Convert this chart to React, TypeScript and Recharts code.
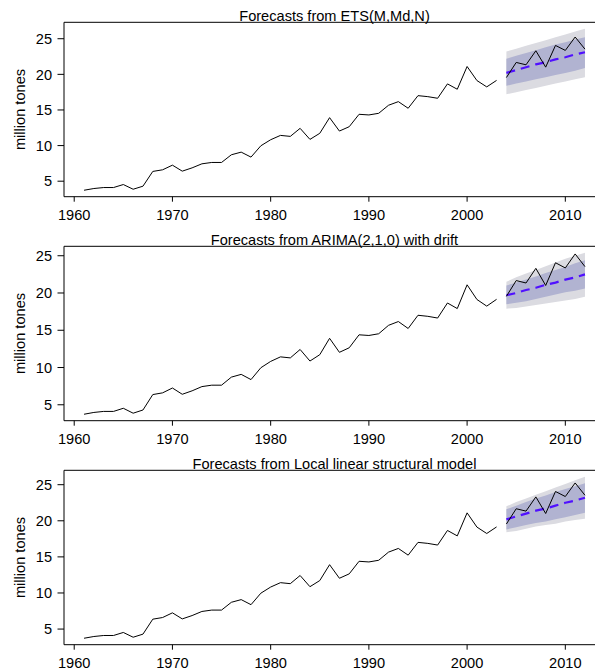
import React from 'react';
import { ComposedChart, Line, Area, XAxis, YAxis, ReferenceArea } from 'recharts';

const OBS_START = 1961;
const observed = [
  3.73, 3.97, 4.11, 4.11, 4.53, 3.87, 4.3, 6.37, 6.6, 7.25,
  6.41, 6.87, 7.44, 7.63, 7.63, 8.71, 9.08, 8.38, 9.97, 10.82,
  11.43, 11.29, 12.42, 10.87, 11.72, 13.92, 12.04, 12.65, 14.39, 14.3,
  14.53, 15.66, 16.17, 15.24, 17.01, 16.87, 16.64, 18.66, 17.91, 21.1,
  19.13, 18.24, 19.15,
];
const FC_START = 2004;
const testData = [19.55, 21.67, 21.34, 23.31, 21.01, 24.06, 23.36, 25.24, 23.54];

// ETS(M,Md,N)
const etsMean = [20.2, 20.6, 21.0, 21.4, 21.7, 22.1, 22.4, 22.8, 23.1];
const etsHi80 = [22.2, 22.6, 23.0, 23.4, 23.8, 24.2, 24.5, 24.9, 25.2];
const etsLo80 = [18.4, 18.7, 19.0, 19.3, 19.6, 19.9, 20.2, 20.5, 20.9];
const etsHi95 = [23.2, 23.6, 24.0, 24.4, 24.8, 25.2, 25.6, 26.0, 26.4];
const etsLo95 = [17.2, 17.5, 17.8, 18.1, 18.4, 18.7, 19.0, 19.3, 19.6];

// ARIMA(2,1,0) with drift
const arMean = [19.7, 20.0, 20.4, 20.7, 21.1, 21.4, 21.8, 22.1, 22.5];
const arHi80 = [21.0, 21.4, 21.8, 22.2, 22.7, 23.1, 23.5, 24.0, 24.4];
const arLo80 = [18.5, 18.7, 18.9, 19.2, 19.5, 19.8, 20.1, 20.3, 20.6];
const arHi95 = [21.5, 22.1, 22.6, 23.1, 23.6, 24.1, 24.6, 25.0, 25.4];
const arLo95 = [17.9, 18.0, 18.2, 18.4, 18.6, 18.8, 19.0, 19.2, 19.5];

// Local linear structural model
const stMean = [20.2, 20.6, 21.0, 21.4, 21.7, 22.1, 22.5, 22.8, 23.2];
const stHi80 = [21.6, 22.1, 22.6, 23.1, 23.5, 24.0, 24.4, 24.8, 25.2];
const stLo80 = [18.8, 19.1, 19.4, 19.7, 19.9, 20.2, 20.5, 20.8, 21.1];
const stHi95 = [22.0, 22.6, 23.1, 23.6, 24.1, 24.6, 25.1, 25.6, 26.1];
const stLo95 = [18.4, 18.6, 18.9, 19.2, 19.4, 19.6, 19.9, 20.1, 20.3];

const titles = [
  'Forecasts from ETS(M,Md,N)',
  'Forecasts from ARIMA(2,1,0) with drift',
  'Forecasts from Local linear structural model',
];
const yLabel = 'million tones';
const xTicks = [1960, 1970, 1980, 1990, 2000, 2010];
const yTicks = [5, 10, 15, 20, 25];

const FONT = '"Liberation Sans", Arial, Helvetica, sans-serif';
const FS = 14.6;

type Fc = { title: string; mean: number[]; hi80: number[]; lo80: number[]; hi95: number[]; lo95: number[] };

const panels: Fc[] = [
  { title: titles[0], mean: etsMean, hi80: etsHi80, lo80: etsLo80, hi95: etsHi95, lo95: etsLo95 },
  { title: titles[1], mean: arMean, hi80: arHi80, lo80: arLo80, hi95: arHi95, lo95: arLo95 },
  { title: titles[2], mean: stMean, hi80: stHi80, lo80: stLo80, hi95: stHi95, lo95: stLo95 },
];

const END_YEAR = FC_START + testData.length - 1;

function buildRows(p: Fc) {
  const rows: any[] = [];
  for (let y = OBS_START; y <= END_YEAR; y++) {
    const i = y - OBS_START;
    const j = y - FC_START;
    const r: any = { year: y };
    if (i < observed.length) r.obs = observed[i];
    if (j >= 0) {
      r.test = testData[j];
      r.mean = p.mean[j];
      r.b80 = [p.lo80[j], p.hi80[j]];
      r.b95 = [p.lo95[j], p.hi95[j]];
    }
    rows.push(r);
  }
  return rows;
}

const CH_W = 610;
const CH_H = 223;
const PLOT_TOP = 22.3;
const PLOT_BOTTOM = 196.7;
const PLOT_LEFT = 64;
const PLOT_RIGHT = 605;

function PanelText({ title }: { title: string }) {
  const cy = (PLOT_TOP + PLOT_BOTTOM) / 2;
  const cx = (PLOT_LEFT + PLOT_RIGHT) / 2;
  return (
    <g>
      <text x={cx} y={20.7} textAnchor="middle" fontFamily={FONT} fontSize={FS} fill="#000">
        {title}
      </text>
      <text
        transform={`translate(25,${cy}) rotate(-90)`}
        x={0}
        y={0}
        textAnchor="middle"
        fontFamily={FONT}
        fontSize={FS}
        fill="#000"
      >
        {yLabel}
      </text>
    </g>
  );
}

function Panel({ p }: { p: Fc }) {
  const data = buildRows(p);
  const lo = Math.min(...observed, ...p.lo95);
  const hi = Math.max(...observed, ...p.hi95);
  const ext = 0.04 * (hi - lo);
  const yDom: [number, number] = [lo - ext, hi + ext];
  const span = END_YEAR - OBS_START;
  const xDom: [number, number] = [OBS_START - 0.04 * span, END_YEAR + 0.04 * span];
  const tickStyle = { fill: '#000', fontSize: FS, fontFamily: FONT };
  return (
    <ComposedChart
      width={CH_W}
      height={CH_H}
      data={data}
      margin={{ top: PLOT_TOP, right: CH_W - PLOT_RIGHT, bottom: 0, left: 0 }}
    >
      <XAxis
        dataKey="year"
        type="number"
        domain={xDom}
        ticks={xTicks}
        allowDataOverflow
        interval={0}
        height={CH_H - PLOT_BOTTOM}
        axisLine={false}
        tickSize={5}
        tickMargin={8}
        tickLine={{ stroke: '#000' }}
        tick={tickStyle}
      />
      <YAxis
        type="number"
        domain={yDom}
        ticks={yTicks}
        allowDataOverflow
        interval={0}
        width={PLOT_LEFT}
        axisLine={false}
        tickSize={6.5}
        tickMargin={5.5}
        tickLine={{ stroke: '#000' }}
        tick={tickStyle}
        label={<PanelText title={p.title} />}
      />
      <Area
        type="linear"
        dataKey={(d: any) => d.b95}
        stroke="none"
        fill="#dbdbe1"
        fillOpacity={1}
        isAnimationActive={false}
        dot={false}
        activeDot={false}
      />
      <Area
        type="linear"
        dataKey={(d: any) => d.b80}
        stroke="none"
        fill="#b1b3d1"
        fillOpacity={1}
        isAnimationActive={false}
        dot={false}
        activeDot={false}
      />
      <Line type="linear" dataKey="obs" stroke="#000" strokeWidth={1} dot={false} activeDot={false} isAnimationActive={false} />
      <Line
        type="linear"
        dataKey="mean"
        stroke="#5010ff"
        strokeWidth={2.2}
        strokeDasharray="9 6"
        dot={false}
        activeDot={false}
        isAnimationActive={false}
      />
      <Line type="linear" dataKey="test" stroke="#000" strokeWidth={1} dot={false} activeDot={false} isAnimationActive={false} />
      <ReferenceArea
        x1={xDom[0]}
        x2={xDom[1]}
        y1={yDom[0]}
        y2={yDom[1]}
        fill="none"
        stroke="#000"
        strokeWidth={1}
        ifOverflow="visible"
      />
    </ComposedChart>
  );
}

export default function App() {
  const tops = [0, 224, 448];
  return (
    <div style={{ position: 'absolute', left: 0, top: 0, width: 595, height: 671, overflow: 'hidden', background: '#fff' }}>
      {panels.map((p, k) => (
        <div key={k} style={{ position: 'absolute', left: 0, top: tops[k], width: CH_W, height: CH_H }}>
          <Panel p={p} />
        </div>
      ))}
    </div>
  );
}
